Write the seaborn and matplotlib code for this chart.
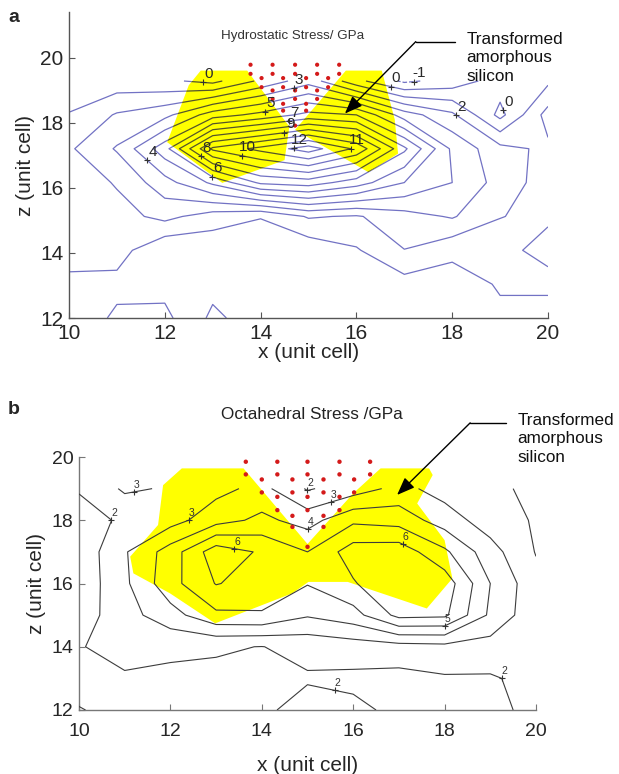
import numpy as np
import pandas as pd
import matplotlib
matplotlib.use("Agg")
import matplotlib.pyplot as plt
from matplotlib.patches import Polygon
from matplotlib.transforms import offset_copy
import seaborn as sns

sns.set_theme(style="white")
plt.rcParams['font.family'] = ['Liberation Sans', 'DejaVu Sans']

# ---------------- data ----------------
x_grid = [10, 11, 12, 13, 14, 15, 16, 17, 18, 19, 20]

# panel a : hydrostatic stress (GPa), rows bottom -> top
z_grid_a = [12.0, 13.04, 14.08, 15.12, 16.16, 17.2, 18.24, 19.28]
hyd_stress = [
    [0.2, 1.2, 1.25, -0.2, 0.5, 0.6, 0.5, 0.5, 0.5, 0.8, 0.9],
    [0.6, 0.7, 0.68, 0.3, 0.4, 0.3, 0.5, 0.6, 0.5, 1.1, 1.05],
    [1.7, 1.43, 0.1, 0.3, 0.2, 0.3, 0.9, 1.98, 1.27, 1.2, 2.9],
    [1.3, 1.6, 2.3, 1.49, 1.06, 2.1, 1.9, 2.6, 3.1, 2.05, 1.6],
    [1.3, 2.1, 3.6, 5.2, 7.2, 7.5, 6.5, 5.0, 4.0, 2.6, 1.5],
    [1.85, 3.1, 5.6, 10.2, 11.3, 12.5, 10.8, 7.2, 3.8, 2.3, 1.8],
    [1.05, 2.1, 2.7, 4.5, 5.3, 6.3, 6.0, 3.5, 2.2, -0.3, 2.4],
    [0.4, 0.4, 0.2, -0.3, 1.2, 2.6, 0.3, -1.2, -0.6, 0.5, 0.8],
]
levels_a = list(range(-1, 13))
label_pos_a = [(12.8, 19.15), (14.7, 19.0), (14.1, 18.3), (14.6, 18.05), (14.5, 17.68),
               (14.7, 17.2), (15.9, 17.2), (13.6, 16.95), (12.75, 16.95), (13.0, 16.38),
               (11.6, 16.8), (16.7, 19.05), (17.2, 19.2), (18.08, 18.24), (19.1, 18.4)]

# yellow transformed regions, panel a
amorph_a_left_x = [12.75, 13.72, 14.6, 14.5, 13.2, 12.05, 12.5]
amorph_a_left_z = [19.6, 19.6, 17.88, 16.85, 16.15, 17.4, 19.15]
amorph_a_right_x = [15.78, 16.53, 16.8, 16.87, 16.25, 14.72]
amorph_a_right_z = [19.6, 19.6, 18.1, 17.05, 16.48, 17.78]

# indenter atoms, panel a
atoms_a_x = [13.79, 14.25, 14.72, 15.18, 15.64, 13.79, 14.25, 14.72, 15.18, 15.64,
             14.02, 14.47, 14.95, 15.41, 14.02, 14.47, 14.95, 15.41,
             14.25, 14.72, 15.18, 14.25, 14.72, 15.18, 14.47, 14.95, 14.47, 14.95, 14.72]
atoms_a_z = [19.78] * 5 + [19.50] * 5 + [19.37] * 4 + [19.09] * 4 + \
            [18.99] * 3 + [18.73] * 3 + [18.58] * 2 + [18.37] * 2 + [17.91]

# panel b : octahedral stress (GPa), rows bottom -> top
z_grid_b = [12, 13, 14, 15, 16, 17, 18, 19]
oct_stress = [
    [2.05, 1.7, 1.8, 1.7, 1.8, 2.4, 2.2, 1.8, 1.7, 1.8, 2.2],
    [1.6, 1.9, 1.8, 1.8, 1.9, 1.9, 1.8, 1.7, 1.9, 1.9, 2.3],
    [1.95, 2.3, 2.2, 2.1, 1.98, 2.3, 2.5, 2.6, 2.7, 2.6, 2.1],
    [1.5, 2.6, 3.6, 4.8, 4.9, 4.1, 4.6, 6.3, 6.2, 3.8, 2.3],
    [1.3, 2.8, 4.65, 6.05, 5.6, 5.05, 5.9, 7.0, 6.6, 4.0, 2.3],
    [1.3, 2.9, 4.46, 6.6, 5.86, 5.0, 6.5, 6.6, 5.2, 3.4, 1.95],
    [1.5, 2.2, 2.6, 3.6, 4.24, 3.6, 4.8, 4.6, 3.5, 2.5, 1.9],
    [2.1, 3.15, 2.9, 2.7, 3.3, 1.9, 2.5, 3.3, 2.6, 2.2, 1.8],
]
levels_b = [2, 3, 4, 5, 6]
label_pos_b = [(11.2, 18.9), (10.7, 18.0), (12.4, 18.0), (13.4, 17.1), (15.0, 18.95),
               (15.5, 18.6), (15.0, 17.75), (17.1, 17.3), (18.0, 14.66), (19.3, 13.1),
               (15.6, 12.6)]

amorph_b_x = [12.25, 13.6, 15.0, 16.0, 16.6, 17.66, 17.74, 17.4, 18.0, 18.17, 17.61,
              15.88, 15.02, 14.67, 12.98, 11.99, 11.19, 11.12, 11.73, 11.84]
amorph_b_z = [19.64, 19.64, 17.25, 18.85, 19.64, 19.64, 19.43, 18.53, 17.37, 16.16, 15.21,
              16.05, 16.05, 15.69, 14.74, 15.69, 16.32, 16.85, 17.85, 19.11]

atoms_b_x = [13.65, 14.34, 15.0, 15.70, 16.37, 13.65, 14.34, 15.0, 15.70, 16.37,
             14.0, 14.67, 15.35, 16.02, 14.0, 14.67, 15.35, 16.02,
             14.34, 15.0, 15.7, 14.34, 15.0, 15.7, 14.67, 15.35, 14.67, 15.35, 15.0]
atoms_b_z = [19.85] * 5 + [19.45] * 5 + [19.29] * 4 + [18.88] * 4 + \
            [18.74] * 3 + [18.32] * 3 + [18.14] * 2 + [17.79] * 2 + [17.16]

x_ticks = [10, 12, 14, 16, 18, 20]
z_ticks = [12, 14, 16, 18, 20]

# ---------------- figure ----------------
fig = plt.figure(figsize=(6.19, 7.74), dpi=100)
ax_a = fig.add_axes([69 / 619, 1 - 318 / 774, (548 - 69) / 619, (318 - 12) / 774])
ax_b = fig.add_axes([79 / 619, 1 - 710 / 774, (536 - 79) / 619, (710 - 457) / 774])

BLUE = '#7272c4'
OLIVE = '#55552a'
YELLOW = '#ffff00'
RED = '#d41a1a'


def style_axes(ax, ylim, spine_col):
    ax.set_xlim(10, 20)
    ax.set_ylim(*ylim)
    ax.set_xticks(x_ticks)
    ax.set_yticks(z_ticks)
    for s in ['top', 'right']:
        ax.spines[s].set_visible(False)
    for s in ['left', 'bottom']:
        ax.spines[s].set_color(spine_col)
        ax.spines[s].set_linewidth(1.0)
    ax.tick_params(direction='in', length=4, width=0.8, color=spine_col,
                   labelsize=15, pad=4, left=True, bottom=True)
    ax.set_facecolor('none')


def matlab_labels(ax, texts, dx, dy, mcol, ms):
    for t in texts:
        x, y = t.get_position()
        ax.plot([x], [y], marker='+', color=mcol, ms=ms, mew=0.8, zorder=6)
        t.set_rotation(0)
        t.set_transform(offset_copy(ax.transData, fig=fig, x=dx, y=dy, units='points'))
        t.set_zorder(6)


# ----- panel a -----
Xa, Za = np.meshgrid(x_grid, z_grid_a)
Ha = np.array(hyd_stress)
cs_a = ax_a.contour(Xa, Za, Ha, levels=levels_a, colors=BLUE, linewidths=0.9, zorder=2)

polys_a = []
for px, pz in [(amorph_a_left_x, amorph_a_left_z), (amorph_a_right_x, amorph_a_right_z)]:
    p = Polygon(np.column_stack([px, pz]), closed=True, facecolor=YELLOW,
                edgecolor='none', zorder=3)
    ax_a.add_patch(p)
    polys_a.append(p)

for p in polys_a:
    cs_in = ax_a.contour(Xa, Za, Ha, levels=levels_a, colors=OLIVE, linewidths=0.9, zorder=4)
    cs_in.set_clip_path(p)

df_a = pd.DataFrame({'x': atoms_a_x, 'z': atoms_a_z})
sns.scatterplot(data=df_a, x='x', y='z', ax=ax_a, color=RED, s=9, edgecolor='none',
                zorder=5, legend=False)

lab_a = ax_a.clabel(cs_a, inline=False, fontsize=11, fmt='%d', colors='#2a2a2a',
                    manual=label_pos_a)
matlab_labels(ax_a, lab_a, 4, 6, '#333333', 4)

style_axes(ax_a, (12, 21.4), '#555555')
ax_a.set_xlabel('x (unit cell)', fontsize=15, labelpad=0)
ax_a.set_ylabel('z (unit cell)', fontsize=15, labelpad=4)
ax_a.text(14.66, 20.67, 'Hydrostatic Stress/ GPa', fontsize=9.6, color='#333333',
          ha='center', va='center')
ax_a.text(18.3, 20.8, 'Transformed\namorphous\nsilicon', fontsize=12.3, color='#111111',
          ha='left', va='top', linespacing=1.3)
ax_a.plot([17.24, 18.06], [20.49, 20.49], color='black', lw=1.0, clip_on=False)
ax_a.annotate('', xy=(15.76, 18.28), xytext=(17.24, 20.49),
              arrowprops=dict(arrowstyle='-|>,head_length=0.9,head_width=0.35',
                              color='black', lw=1.0, shrinkA=0, shrinkB=0),
              annotation_clip=False, zorder=7)
fig.text(14 / 619, 1 - 18 / 774, 'a', fontsize=14, fontweight='bold', ha='center', va='center')

# ----- panel b -----
Xb, Zb = np.meshgrid(x_grid, z_grid_b)
Ob = np.array(oct_stress)
pb = Polygon(np.column_stack([amorph_b_x, amorph_b_z]), closed=True, facecolor=YELLOW,
             edgecolor='none', zorder=2)
ax_b.add_patch(pb)
cs_b = ax_b.contour(Xb, Zb, Ob, levels=levels_b, colors='#3c3c3c', linewidths=0.8, zorder=3)

df_b = pd.DataFrame({'x': atoms_b_x, 'z': atoms_b_z})
sns.scatterplot(data=df_b, x='x', y='z', ax=ax_b, color=RED, s=10, edgecolor='none',
                zorder=5, legend=False)

lab_b = ax_b.clabel(cs_b, inline=False, fontsize=7.5, fmt='%d', colors='#333333',
                    manual=label_pos_b)
matlab_labels(ax_b, lab_b, 2, 5, '#333333', 4)

style_axes(ax_b, (12, 20), '#777777')
ax_b.tick_params(labelsize=14)
ax_b.tick_params(axis='x', pad=9)
ax_b.set_xlabel('x (unit cell)', fontsize=15, labelpad=12)
ax_b.set_ylabel('z (unit cell)', fontsize=15, labelpad=4)
ax_b.text(15.1, 21.33, 'Octahedral Stress /GPa', fontsize=12.3, color='#222222',
          ha='center', va='center', clip_on=False)
ax_b.text(19.6, 21.4, 'Transformed\namorphous\nsilicon', fontsize=12.3, color='#111111',
          ha='left', va='top', linespacing=1.3, clip_on=False)
ax_b.plot([18.56, 19.34], [21.08, 21.08], color='black', lw=1.0, clip_on=False)
ax_b.annotate('', xy=(16.96, 18.8), xytext=(18.56, 21.08),
              arrowprops=dict(arrowstyle='-|>,head_length=0.9,head_width=0.35',
                              color='black', lw=1.0, shrinkA=0, shrinkB=0),
              annotation_clip=False, zorder=7)
fig.text(14 / 619, 1 - 410 / 774, 'b', fontsize=14, fontweight='bold', ha='center', va='center')

fig.savefig('out.png', dpi=100)
